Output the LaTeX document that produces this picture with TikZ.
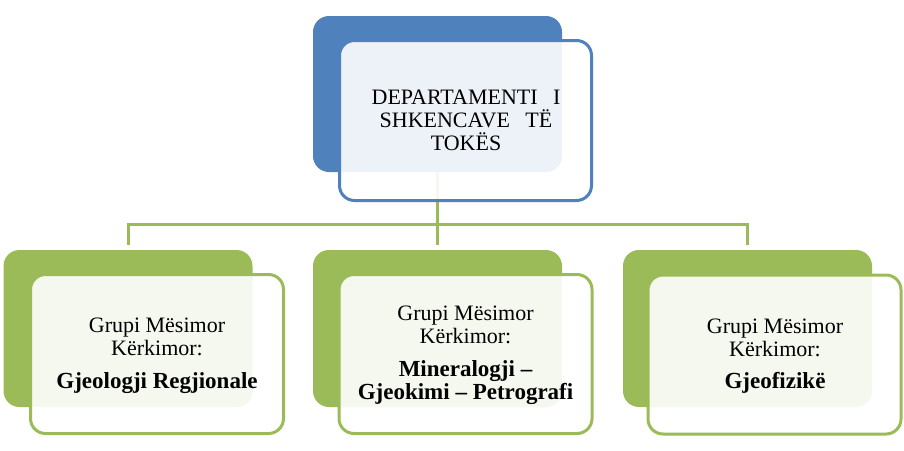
\documentclass[tikz,border=0pt]{standalone}
\usepackage{fontspec}
\setmainfont{Liberation Serif}
\newfontfamily\tnr{Liberation Serif}
\definecolor{cblue}{HTML}{4F81BD}
\definecolor{cgreen}{HTML}{9BBB59}
\newcommand\bigbold{\bfseries\fontsize{23}{23}\selectfont}
\begin{document}
\begin{tikzpicture}[x=1pt,y=-1pt,
  backbox/.style={fill=#1, draw=none, rounded corners=16pt, minimum width=249pt, minimum height=156pt, inner sep=0pt},
  frontbox/.style={draw=#1, line width=3pt, fill=white, fill opacity=0.9, rounded corners=15pt, minimum width=253pt, minimum height=159pt, inner sep=0pt},
  conn/.style={draw=cgreen, line width=3pt},
  lbl/.style={font=\tnr\fontsize{22}{23}\selectfont, align=center, text=black, inner sep=0pt}
]
\useasboundingbox (0,0) rectangle (904,450);
% back boxes
\node[backbox=cblue] (tb) at (437.5,94) {};
\node[backbox=cgreen, minimum height=157pt] (lb) at (128,328.5) {};
\node[backbox=cgreen, minimum height=157pt] (mb) at (437.5,328.5) {};
\node[backbox=cgreen, minimum height=157pt] (rb) at (747.5,328.5) {};
% connectors
\coordinate (hub) at (437.5,224);
\draw[conn] (tb.south) -- (hub);
\draw[conn, shorten >=5pt] (hub) -| (lb.north);
\draw[conn, shorten >=5pt] (hub) -- (mb.north);
\draw[conn, shorten >=5pt] (hub) -| (rb.north);
% front boxes
\node[frontbox=cblue, minimum width=252pt, minimum height=160pt] (tf) at (465.5,120.5) {};
\node[frontbox=cgreen] (lf) at (157,354) {};
\node[frontbox=cgreen] (mf) at (465.5,354) {};
\node[frontbox=cgreen] (rf) at (774.5,354.5) {};
% labels
\node[lbl] (tt) at (466,120) {DEPARTAMENTI\hspace{0.7em}I\\SHKENCAVE\hspace{0.7em}TË\\TOKËS};
\node[lbl] (lt) at (157,356) {Grupi Mësimor\\Kërkimor:\\[10pt]{\bigbold Gjeologji Regjionale}};
\node[lbl] (mt) at (465.5,355) {Grupi Mësimor\\Kërkimor:\\[10pt]{\bigbold Mineralogji –}\\{\bigbold Gjeokimi – Petrografi}};
\node[lbl] (rt) at (775,356) {Grupi Mësimor\\Kërkimor:\\[9pt]{\bigbold Gjeofizikë}};
\end{tikzpicture}
\end{document}
